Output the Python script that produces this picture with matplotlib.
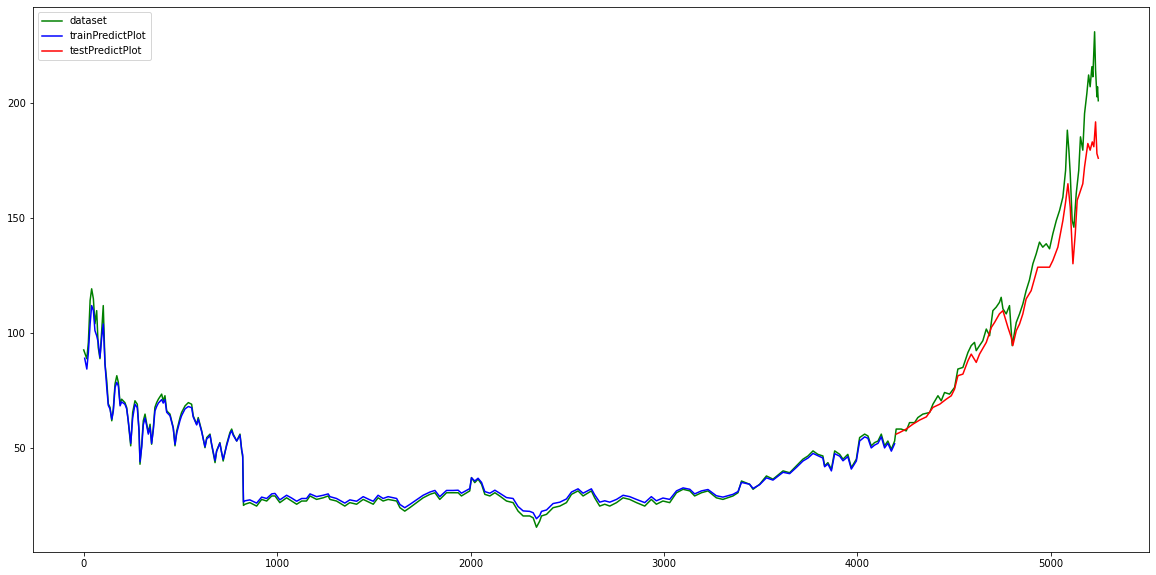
import matplotlib
matplotlib.use("Agg")
import matplotlib.pyplot as plt

# values (index, price)
dataset_idx = [0, 16, 24, 33, 41, 50, 58, 67, 75, 84, 93, 101, 110, 119, 127, 136, 145, 153,
               162, 171, 179, 188, 196, 213, 222, 230, 243, 253, 265, 277, 286, 291, 300, 308,
               317, 326, 334, 343, 351, 360, 368, 377, 386, 403, 411, 420, 429, 446, 463, 472,
               481, 498, 506, 524, 541, 558, 566, 584, 592, 610, 627, 636, 644, 653, 661, 679,
               687, 704, 713, 721, 739, 756, 765, 773, 791, 808, 817, 822, 826,
               834, 859, 894, 920, 946, 972, 989, 1014, 1049, 1075, 1101, 1127, 1152, 1170,
               1204, 1238, 1264, 1273, 1307, 1350, 1376, 1411, 1445, 1480, 1497, 1522, 1548,
               1574, 1618, 1635, 1660, 1686, 1721, 1755, 1790, 1816, 1841, 1876, 1910, 1936,
               1953, 1996, 2005, 2022, 2039, 2057, 2074, 2100, 2126, 2151, 2186, 2220, 2246,
               2272, 2306, 2324, 2341, 2358, 2367, 2393, 2427, 2462, 2496, 2522, 2556, 2582,
               2625, 2642, 2668, 2694, 2720, 2755, 2789, 2823, 2858, 2901, 2935, 2961, 2995,
               3030, 3065, 3099, 3134, 3159, 3194, 3228, 3271, 3305, 3357, 3383, 3401, 3443,
               3461, 3495, 3530, 3564, 3616, 3650, 3685, 3719, 3745, 3771, 3796, 3822, 3831,
               3848, 3866, 3883, 3909, 3926, 3951, 3969, 3995, 4012, 4038, 4055, 4072, 4089,
               4107, 4124, 4141, 4158, 4176, 4193, 4201, 4227, 4253, 4270, 4296, 4313, 4339,
               4374, 4391, 4417, 4434, 4451, 4477, 4503, 4520, 4546, 4572, 4589, 4606, 4615,
               4632, 4649, 4667, 4684, 4701, 4718, 4735, 4744, 4753, 4770, 4787, 4801, 4822,
               4839, 4856, 4873, 4890, 4908, 4925, 4942, 4959, 4977, 4994, 5011, 5029, 5046,
               5063, 5077, 5086, 5094, 5101, 5111, 5120, 5132, 5145, 5154, 5166, 5175, 5187,
               5196, 5204, 5213, 5218, 5227, 5232, 5239, 5242, 5246]
dataset_val = [92.6, 88.8, 95.9, 114.1, 119.2, 114.8, 104.0, 109.7, 93.7, 88.8, 101.0, 111.9,
               86.6, 79.2, 69.2, 67.6, 61.8, 67.0, 77.9, 81.4, 78.5, 69.2, 71.2, 69.7, 67.6,
               61.8, 50.9, 65.4, 70.5, 69.0, 57.4, 42.9, 51.6, 61.8, 64.7, 60.3, 56.7, 60.3,
               51.6, 58.8, 67.6, 69.7, 71.2, 73.4, 70.5, 72.7, 66.1, 64.7, 58.8, 50.9, 57.4,
               63.2, 65.4, 68.3, 69.7, 69.0, 64.0, 60.3, 63.2, 57.4, 50.1, 54.5, 55.2, 56.0,
               51.6, 43.6, 48.7, 52.3, 48.0, 44.3, 51.6, 56.7, 58.2, 56.0, 53.0, 56.0, 48.7,
               46.0, 25.0,
               25.5, 26.2, 24.7, 27.6, 26.9, 29.1, 29.1, 26.2, 28.3, 26.9, 25.5, 26.9, 26.9,
               29.1, 27.6, 28.3, 29.1, 27.6, 26.9, 24.7, 26.2, 25.5, 27.6, 26.2, 25.5, 28.3,
               26.9, 27.6, 26.9, 24.0, 22.5, 24.0, 26.2, 28.3, 29.8, 30.5, 27.6, 30.5, 30.5,
               30.5, 29.1, 31.3, 37.1, 34.9, 36.4, 34.2, 29.8, 29.1, 30.5, 29.1, 26.9, 26.2,
               22.5, 20.4, 20.4, 19.6, 15.5, 18.2, 20.4, 21.1, 24.0, 24.7, 26.2, 29.8, 31.3,
               29.1, 31.3, 28.3, 24.7, 25.5, 24.7, 26.2, 28.3, 27.6, 26.2, 24.7, 27.6, 25.5,
               26.9, 26.2, 30.5, 32.0, 31.3, 29.1, 30.5, 31.3, 28.3, 27.6, 29.1, 30.5, 35.6,
               34.2, 32.0, 34.2, 37.8, 36.4, 40.0, 39.2, 42.2, 45.1, 46.5, 48.7, 47.2, 46.5,
               42.2, 43.6, 40.7, 48.7, 47.2, 45.1, 47.2, 41.4, 45.1, 54.5, 56.0, 55.2, 50.9,
               52.3, 53.0, 56.0, 50.9, 53.0, 49.4, 53.0, 58.2, 58.2, 57.4, 61.0, 61.0, 63.2,
               64.7, 65.4, 69.0, 72.7, 70.5, 74.1, 73.4, 76.3, 84.3, 85.0, 91.5, 94.5, 95.9,
               92.3, 94.5, 96.6, 101.7, 98.8, 109.7, 111.2, 113.3, 115.5, 110.5, 108.3, 111.9,
               94.5, 104.6, 108.3, 112.6, 118.4, 123.0, 130.1, 134.4, 139.5, 137.3, 138.8,
               136.6, 143.1, 148.9, 153.3, 159.1, 170.7, 188.2, 179.5, 169.3, 148.9, 146.0,
               160.6, 170.7, 185.3, 179.5, 195.4, 204.2, 212.2, 207.1, 215.8, 211.4, 231.0,
               214.3, 202.7, 207.1, 201.0]

train_idx = [5, 16, 24, 33, 41, 50, 58, 67, 75, 84, 93, 101, 110, 119, 127, 136, 145, 153,
             162, 171, 179, 188, 196, 213, 222, 230, 243, 253, 265, 277, 286, 291, 300, 308,
             317, 326, 334, 343, 351, 360, 368, 377, 386, 403, 411, 420, 429, 446, 463, 472,
             481, 498, 506, 524, 541, 558, 566, 584, 592, 610, 627, 636, 644, 653, 661, 679,
             687, 704, 713, 721, 739, 756, 765, 773, 791, 808, 817, 822, 826,
             834, 859, 894, 920, 946, 972, 989, 1014, 1049, 1075, 1101, 1127, 1152, 1170,
             1204, 1238, 1264, 1273, 1307, 1350, 1376, 1411, 1445, 1480, 1497, 1522, 1548,
             1574, 1618, 1635, 1660, 1686, 1721, 1755, 1790, 1816, 1841, 1876, 1910, 1936,
             1953, 1996, 2005, 2022, 2039, 2057, 2074, 2100, 2126, 2151, 2186, 2220, 2246,
             2272, 2306, 2324, 2341, 2358, 2367, 2393, 2427, 2462, 2496, 2522, 2556, 2582,
             2625, 2642, 2668, 2694, 2720, 2755, 2789, 2823, 2858, 2901, 2935, 2961, 2995,
             3030, 3065, 3099, 3134, 3159, 3194, 3228, 3271, 3305, 3357, 3383, 3401, 3443,
             3461, 3495, 3530, 3564, 3616, 3650, 3685, 3719, 3745, 3771, 3796, 3822, 3831,
             3848, 3866, 3883, 3909, 3926, 3951, 3969, 3995, 4012, 4038, 4055, 4072, 4089,
             4107, 4124, 4141, 4158, 4176, 4193]
train_val = [89.0, 84.3, 91.5, 103.9, 111.9, 109.7, 101.0, 98.8, 95.9, 89.4, 98.1, 103.9,
             86.5, 76.3, 68.5, 66.9, 62.5, 66.0, 76.3, 78.5, 77.0, 68.3, 70.0, 69.0, 67.0,
             62.0, 52.0, 63.0, 69.0, 67.5, 57.4, 44.0, 50.5, 60.0, 63.0, 59.5, 56.0, 59.0,
             52.0, 58.0, 66.0, 68.0, 69.5, 71.0, 69.5, 71.0, 65.5, 64.0, 58.5, 51.5, 56.5,
             62.0, 64.0, 67.0, 68.0, 67.5, 63.5, 60.0, 62.5, 57.0, 50.5, 54.0, 54.5, 55.5,
             51.8, 44.5, 48.5, 52.0, 48.0, 45.0, 51.0, 56.0, 57.5, 55.5, 53.0, 55.5, 49.0,
             47.0, 26.5,
             27.0, 27.4, 26.0, 28.6, 28.0, 30.0, 30.2, 27.4, 29.4, 28.2, 26.8, 28.0, 28.0,
             30.0, 28.8, 29.4, 30.0, 28.8, 28.0, 26.0, 27.4, 26.8, 28.8, 27.4, 26.8, 29.4,
             28.0, 28.8, 28.0, 25.4, 24.0, 25.4, 27.4, 29.4, 30.8, 31.5, 28.8, 31.5, 31.5,
             31.6, 30.3, 32.3, 37.0, 35.6, 36.8, 35.0, 31.0, 30.3, 31.6, 30.3, 28.4, 28.0,
             24.5, 22.6, 22.4, 21.8, 19.2, 20.6, 22.4, 23.0, 25.8, 26.4, 27.8, 30.8, 32.2,
             30.3, 32.2, 29.6, 26.4, 27.0, 26.4, 27.6, 29.4, 28.8, 27.6, 26.2, 28.8, 27.0,
             28.2, 27.6, 31.3, 32.6, 32.0, 30.0, 31.3, 31.9, 29.2, 28.6, 29.8, 31.0, 35.0,
             34.2, 32.4, 34.0, 37.0, 36.0, 39.4, 38.8, 41.5, 44.3, 45.6, 47.6, 46.6, 45.6,
             41.8, 43.0, 40.0, 47.5, 46.4, 44.4, 46.2, 40.8, 44.3, 53.0, 54.8, 54.2, 50.0,
             51.2, 52.0, 54.8, 50.0, 52.0, 48.6, 51.8]

test_idx = [4201, 4219, 4253, 4287, 4322, 4357, 4391, 4426, 4460, 4486, 4503, 4520, 4546,
            4572, 4589, 4615, 4632, 4667, 4693, 4710, 4735, 4753, 4779, 4796, 4804, 4822,
            4839, 4856, 4873, 4899, 4916, 4933, 4959, 4994, 5011, 5037, 5063, 5077, 5089,
            5101, 5115, 5127, 5137, 5149, 5166, 5175, 5192, 5204, 5215, 5223, 5232, 5239,
            5246]
test_val = [56.0, 56.7, 58.2, 60.3, 62.1, 63.5, 67.6, 69.0, 71.2, 72.7, 75.6, 81.4, 82.1,
            87.9, 90.8, 87.2, 90.8, 95.9, 102.4, 104.6, 108.3, 109.7, 102.4, 98.1, 94.5,
            101.0, 103.9, 108.3, 114.8, 118.4, 123.5, 128.6, 128.6, 128.6, 131.5, 137.3,
            148.9, 156.9, 164.9, 154.7, 130.1, 143.1, 157.7, 160.6, 164.9, 172.2, 182.4,
            179.5, 183.1, 181.0, 191.8, 178.0, 176.0]

fig = plt.figure(figsize=(1156 / 72, 575 / 72), dpi=72)
ax = fig.add_axes([33 / 1156, 23 / 575, 1116 / 1156, 545 / 575])

ax.plot(dataset_idx, dataset_val, color='green', label='dataset')
ax.plot(train_idx, train_val, color='blue', label='trainPredictPlot')
ax.plot(test_idx, test_val, color='red', label='testPredictPlot')
ax.set_xticks([0, 1000, 2000, 3000, 4000, 5000])
ax.set_yticks([50, 100, 150, 200])
ax.legend(loc='upper left')

fig.savefig('out.png', dpi=72)
